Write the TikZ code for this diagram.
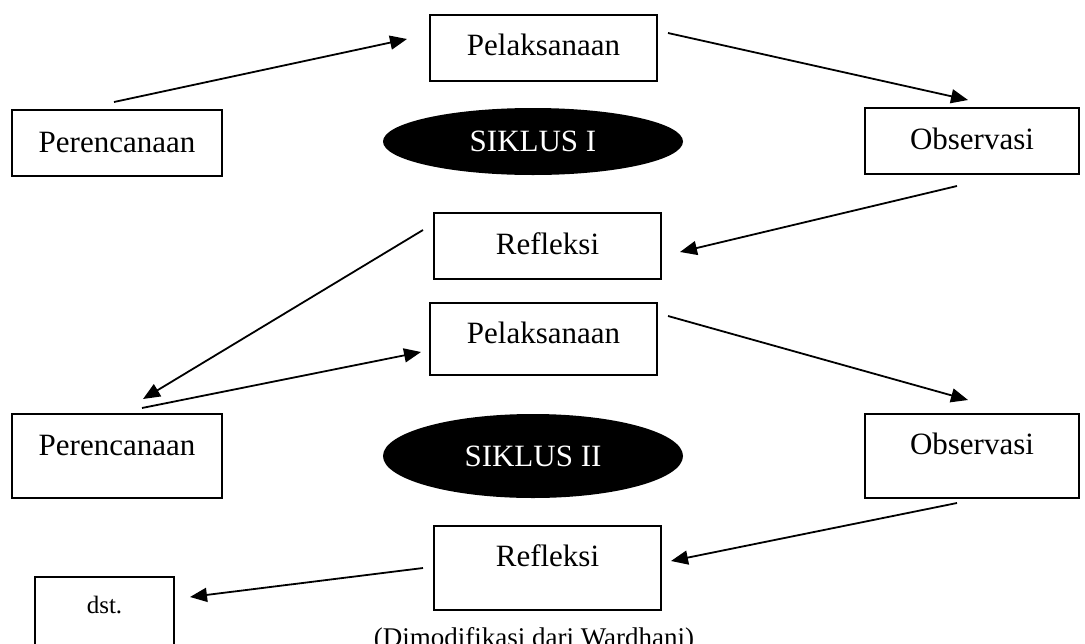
\documentclass[tikz,border=0pt]{standalone}
\usepackage{fontspec}
\setmainfont{Liberation Serif}
\usetikzlibrary{arrows.meta,shapes.geometric}
\begin{document}
\begin{tikzpicture}[x=1pt,y=-1pt,
  box/.style={draw, line width=1.7pt, inner sep=0pt, outer sep=0pt, align=center, anchor=north,
              font=\fontsize{31}{37}\selectfont},
  oval/.style={ellipse, fill=black, text=white, inner sep=0pt, minimum width=300pt,
              font=\fontsize{31}{37}\selectfont},
  conn/.style={-{Triangle[length=17pt,width=14pt]}, line width=1.8pt},
  caption/.style={font=\fontsize{27}{32}\selectfont, anchor=base}]
\useasboundingbox (0,0) rectangle (1085,643);
\clip (0,0) rectangle (1085,643);
% cycle I
\node[box, text width=227pt, text height=40pt, text depth=26pt] (pel1) at (543.5,15) {Pelaksanaan};
\node[box, text width=210pt, text height=42pt, text depth=24pt] (per1) at (117,110) {Perencanaan};
\node[box, text width=214pt, text height=41pt, text depth=25pt] (obs1) at (972,108) {Observasi};
\node[box, text width=227pt, text height=41pt, text depth=25pt] (ref1) at (547.5,213) {Refleksi};
\node[oval, minimum height=67pt] (sik1) at (533,141.5) {SIKLUS I};
% cycle II
\node[box, text width=227pt, text height=40pt, text depth=32pt] (pel2) at (543.5,303) {Pelaksanaan};
\node[box, text width=210pt, text height=41pt, text depth=43pt] (per2) at (117,414) {Perencanaan};
\node[box, text width=214pt, text height=40pt, text depth=44pt] (obs2) at (972,414) {Observasi};
\node[box, text width=227pt, text height=40pt, text depth=44pt] (ref2) at (547.5,526) {Refleksi};
\node[oval, minimum height=84pt] (sik2) at (533,456) {SIKLUS II};
% dst.
\node[box, text width=139pt, text height=36pt, text depth=60pt, font=\fontsize{25}{30}\selectfont] (dst) at (104.5,577) {dst.};
\node[caption] (cap) at (534,646) {(Dimodifikasi dari Wardhani)};
% connector ends
\coordinate (a1s) at (114,102);  \coordinate (a1e) at (407,39);
\coordinate (a2s) at (668,33);   \coordinate (a2e) at (968,100);
\coordinate (a3s) at (957,186);  \coordinate (a3e) at (680,252);
\coordinate (a4s) at (423,230);  \coordinate (a4e) at (143,399);
\coordinate (a5s) at (142,408);  \coordinate (a5e) at (421,352);
\coordinate (a6s) at (668,316);  \coordinate (a6e) at (968,400);
\coordinate (a7s) at (957,503);  \coordinate (a7e) at (671,561);
\coordinate (a8s) at (423,568);  \coordinate (a8e) at (190,597);
\draw[conn] (a1s) -- (a1e);
\draw[conn] (a2s) -- (a2e);
\draw[conn] (a3s) -- (a3e);
\draw[conn] (a4s) -- (a4e);
\draw[conn] (a5s) -- (a5e);
\draw[conn] (a6s) -- (a6e);
\draw[conn] (a7s) -- (a7e);
\draw[conn] (a8s) -- (a8e);
\end{tikzpicture}
\end{document}
